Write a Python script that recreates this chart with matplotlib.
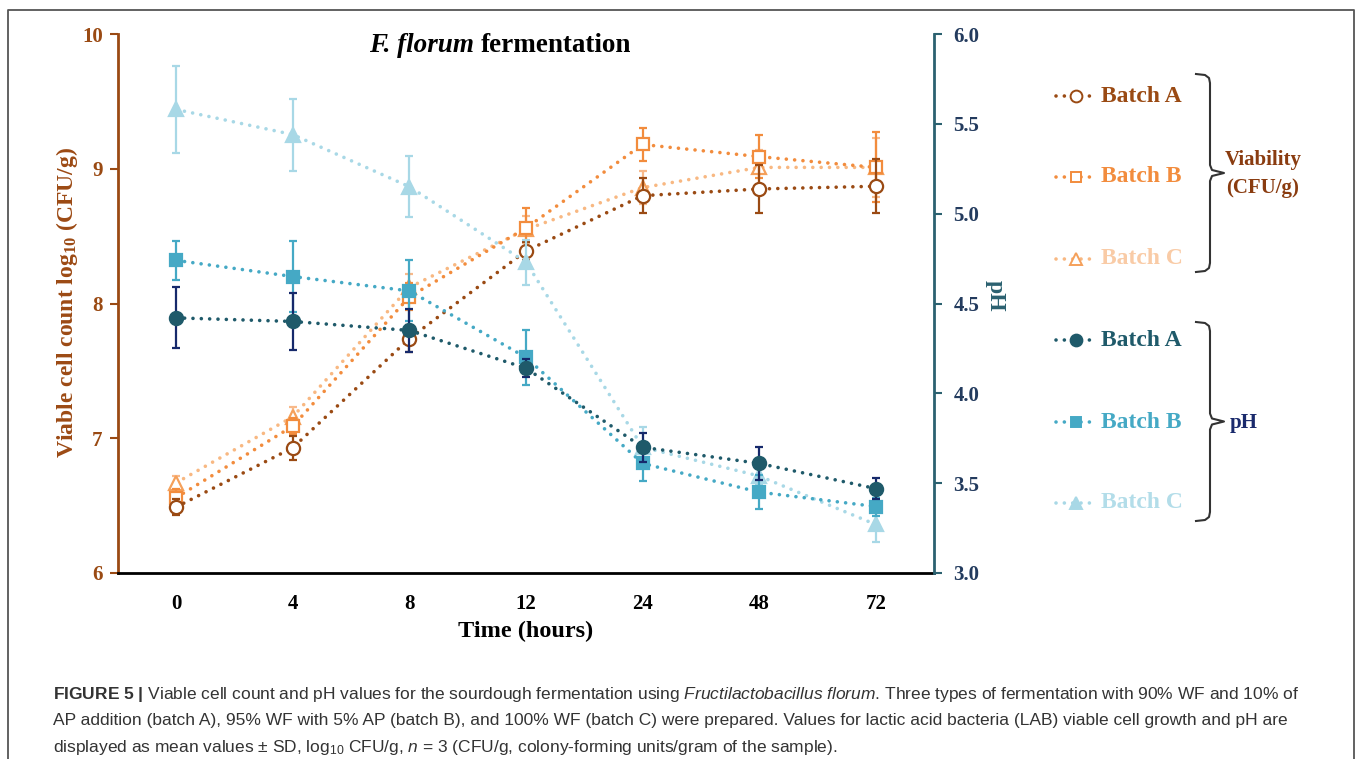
import matplotlib
matplotlib.use('Agg')
import matplotlib.pyplot as plt
from matplotlib import font_manager
from matplotlib.lines import Line2D

# ---------------- data ----------------
time_labels = ['0', '4', '8', '12', '24', '48', '72']

viab_A = [6.49, 6.93, 7.74, 8.39, 8.80, 8.85, 8.87]
viab_A_sd = [0.06, 0.09, 0.10, 0.07, 0.13, 0.18, 0.20]
viab_B = [6.56, 7.09, 8.05, 8.56, 9.18, 9.09, 9.01]
viab_B_sd = [0.06, 0.06, 0.10, 0.15, 0.12, 0.16, 0.26]
viab_C = [6.67, 7.16, 8.12, 8.55, 8.86, 9.01, 9.01]
viab_C_sd = [0.05, 0.07, 0.10, 0.10, 0.12, 0.13, 0.22]

ph_A = [4.42, 4.40, 4.35, 4.14, 3.70, 3.61, 3.47]
ph_A_sd = [0.17, 0.16, 0.12, 0.05, 0.08, 0.09, 0.06]
ph_B = [4.74, 4.65, 4.57, 4.20, 3.61, 3.45, 3.37]
ph_B_sd = [0.11, 0.20, 0.17, 0.155, 0.10, 0.095, 0.05]
ph_C = [5.58, 5.44, 5.15, 4.73, 3.70, 3.54, 3.27]
ph_C_sd = [0.24, 0.20, 0.17, 0.125, 0.115, 0.05, 0.095]

left_ticks = [6, 7, 8, 9, 10]
right_ticks = [3.0, 3.5, 4.0, 4.5, 5.0, 5.5, 6.0]

# ---------------- fonts ----------------
names = {f.name for f in font_manager.fontManager.ttflist}
capfont = 'Liberation Sans Narrow' if 'Liberation Sans Narrow' in names else 'Liberation Sans'

plt.rcParams['font.family'] = ['Liberation Serif', 'DejaVu Serif']
plt.rcParams['font.weight'] = 'bold'
plt.rcParams['mathtext.fontset'] = 'custom'
plt.rcParams['mathtext.rm'] = capfont + ':style=normal:weight=normal'
plt.rcParams['mathtext.it'] = capfont + ':style=italic:weight=normal'
plt.rcParams['mathtext.bf'] = capfont + ':style=normal:weight=bold'
plt.rcParams['mathtext.sf'] = 'Liberation Serif:style=normal:weight=bold'

W, H = 1358, 759
fig = plt.figure(figsize=(W / 100, H / 100), dpi=100)
fig.patch.set_facecolor('white')

def fx(x):
    return x / W

def fy(y):
    return 1 - y / H

# colours
brown = '#9a4a13'
brown_lab = '#9c4a14'
orange = '#f28c3d'
peach_line = '#f8b882'
peach_mk = '#f5a05a'
peach_txt = '#f9cba6'
teal_d = '#1f5a6a'
navy = '#16296b'
cyan = '#45a9c5'
lblue = '#a8d8e6'
right_spine = '#2b6170'
right_lbl = '#233b5e'

ax = fig.add_axes([fx(118), fy(573), (934 - 118) / W, (573 - 34) / H])
ax2 = ax.twinx()

x = list(range(len(time_labels)))
dot = (0, (0.01, 2.3))
LW = 2.6

def series(a, y, sd, lc, ecol, marker, ms, mfc, mec, z):
    a.errorbar(x, y, yerr=sd, fmt='none', ecolor=ecol, elinewidth=1.6,
               capsize=3, capthick=1.6, zorder=z)
    a.plot(x, y, linestyle=dot, lw=LW, color=lc, dash_capstyle='round',
           marker=marker, ms=ms, mfc=mfc, mec=mec, mew=1.6, zorder=z + 1)

series(ax, viab_C, viab_C_sd, peach_line, '#f8b98a', '^', 9.5, 'white', peach_mk, 2)
series(ax, viab_B, viab_B_sd, orange, orange, 's', 8.5, 'white', orange, 4)
series(ax, viab_A, viab_A_sd, brown, brown, 'o', 9.5, 'white', brown, 6)

series(ax2, ph_C, ph_C_sd, lblue, lblue, '^', 9.5, lblue, lblue, 2)
series(ax2, ph_B, ph_B_sd, cyan, cyan, 's', 8.5, cyan, cyan, 4)
series(ax2, ph_A, ph_A_sd, teal_d, navy, 'o', 9.5, teal_d, teal_d, 6)

ax.set_xlim(-0.5, 6.5)
ax.set_ylim(6, 10)
ax2.set_ylim(3, 6)
ax.set_xticks(x)
ax.set_xticklabels(time_labels)
ax.set_yticks(left_ticks)
ax.set_yticklabels([str(t) for t in left_ticks])
ax2.set_yticks(right_ticks)
ax2.set_yticklabels([f'{t:.1f}' for t in right_ticks])

ax.tick_params(axis='x', length=0, pad=15, labelsize=15, labelcolor='black')
ax.tick_params(axis='y', length=6, width=1.5, color=brown, labelcolor=brown,
               labelsize=15, pad=5)
ax2.tick_params(axis='y', length=6, width=1.5, color=right_spine,
                labelcolor=right_lbl, labelsize=15, pad=8)

for a in (ax, ax2):
    a.spines['top'].set_visible(False)
    a.patch.set_alpha(0)
ax.spines['right'].set_visible(False)
ax2.spines['left'].set_visible(False)
ax2.spines['bottom'].set_visible(False)
ax.spines['left'].set_color(brown)
ax.spines['left'].set_linewidth(2)
ax.spines['bottom'].set_color('black')
ax.spines['bottom'].set_linewidth(2)
ax2.spines['right'].set_color(right_spine)
ax2.spines['right'].set_linewidth(2)

# axis labels
fig.text(fx(67), fy(302), r'Viable cell count log$_{\mathsf{10}}$ (CFU/g)',
         rotation=90, ha='center', va='center', fontsize=17, color=brown_lab)
fig.text(fx(995), fy(296), 'pH', rotation=270, ha='center', va='center',
         fontsize=17, color=right_spine)
fig.text(fx(526), fy(631), 'Time (hours)', ha='center', va='center',
         fontsize=17.5, color='black')

# title
renderer = fig.canvas.get_renderer()
t1 = fig.text(0, fy(45), 'F. florum', fontsize=19.5, style='italic',
              ha='left', va='center', color='black')
t2 = fig.text(0, fy(45), 'fermentation', fontsize=19.5, ha='left',
              va='center', color='black')
w1 = t1.get_window_extent(renderer).width
w2 = t2.get_window_extent(renderer).width
sp = 0.25 * 19.5 * 100 / 72
x0 = 500 - (w1 + sp + w2) / 2
t1.set_x(fx(x0))
t2.set_x(fx(x0 + w1 + sp))

# ---------------- legend (manual) ----------------
ov = fig.add_axes([0, 0, 1, 1])
ov.set_xlim(0, W)
ov.set_ylim(H, 0)
ov.axis('off')

legend_rows = [
    (96, 'Batch A', brown, 'o', 'white', brown, brown),
    (177, 'Batch B', orange, 's', 'white', orange, orange),
    (259, 'Batch C', peach_line, '^', 'white', peach_mk, peach_txt),
    (340, 'Batch A', teal_d, 'o', teal_d, teal_d, teal_d),
    (422, 'Batch B', cyan, 's', cyan, cyan, cyan),
    (503, 'Batch C', lblue, '^', lblue, lblue, '#b3dde9'),
]
for yy, lab, lc, mk, mfc, mec, tc in legend_rows:
    ov.add_line(Line2D([1056, 1096], [yy, yy], linestyle=dot, lw=LW, color=lc,
                       dash_capstyle='round'))
    ov.add_line(Line2D([1076], [yy], marker=mk, ms=8.5 if mk != 's' else 7.5,
                       mfc=mfc, mec=mec, mew=1.4, linestyle='none'))
    ov.text(1101, yy, lab, fontsize=17, color=tc, ha='left', va='center')

def brace(top, bot):
    mid = (top + bot) / 2
    xs = [1196, 1205, 1209, 1210, 1210, 1212, 1224, 1212, 1210, 1210, 1209, 1205, 1196]
    ys = [top, top + 1, top + 4, top + 9, mid - 8, mid - 3, mid, mid + 3,
          mid + 8, bot - 9, bot - 4, bot - 1, bot]
    ov.add_line(Line2D(xs, ys, color='#333333', lw=1.5))

brace(74, 272)
brace(322, 521)
ov.text(1263, 160, 'Viability', fontsize=15, color='#8a3c10', ha='center', va='center')
ov.text(1263, 188, '(CFU/g)', fontsize=15, color='#8a3c10', ha='center', va='center')
ov.text(1230, 423, 'pH', fontsize=15, color='#1a2a6c', ha='left', va='center')

# border (open at bottom)
ov.add_line(Line2D([8, 8, 1354, 1354], [780, 10, 10, 780], color='#555555', lw=1.3,
                   clip_on=False))

# ---------------- caption ----------------
cap_lines = [
    r'$\mathbf{FIGURE\ 5\ |}$ Viable cell count and pH values for the sourdough fermentation using '
    r'$\mathit{Fructilactobacillus\ florum}$. Three types of fermentation with 90% WF and 10% of',
    'AP addition (batch A), 95% WF with 5% AP (batch B), and 100% WF (batch C) were prepared. '
    'Values for lactic acid bacteria (LAB) viable cell growth and pH are',
    r'displayed as mean values ± SD, log$_{\mathrm{10}}$ CFU/g, $\mathit{n}$ = 3 '
    '(CFU/g, colony-forming units/gram of the sample).',
]
cap_base = [699, 725.5, 752]
cap_texts = []
for s, yb in zip(cap_lines, cap_base):
    t = fig.text(fx(53), fy(yb), s, fontsize=12, family=capfont, fontweight='normal',
                 color='#333333', ha='left', va='baseline')
    cap_texts.append(t)
wcap = cap_texts[0].get_window_extent(renderer).width
scale = 1245 / wcap
for t in cap_texts:
    t.set_fontsize(12 * scale)

fig.savefig('out.png', dpi=100, facecolor='white')
